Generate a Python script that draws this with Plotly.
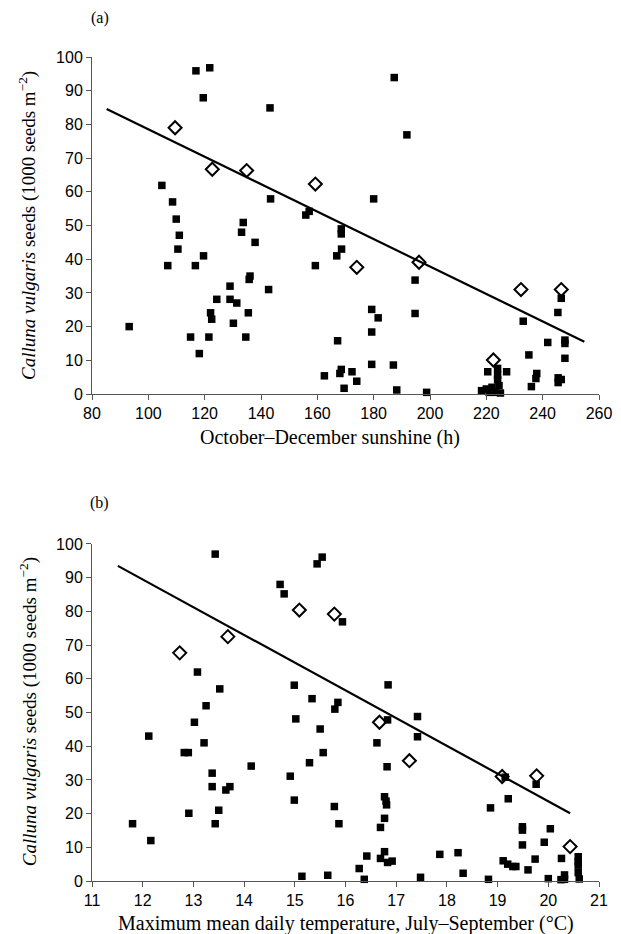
import plotly.graph_objects as go

# ---------------- Panel (a): October-December sunshine ----------------
a_sq_x = [116.9, 121.8, 119.5, 143.2, 104.8, 108.6, 143.4, 187.3, 191.8, 180.0,
          109.9, 111.0, 110.5, 106.9, 116.7, 119.6, 133.7, 133.1, 137.9, 155.9,
          157.1, 168.5, 168.5, 168.6, 166.9, 159.3, 136.1, 135.8, 142.7, 129.0,
          129.0, 131.4, 124.3, 122.1, 122.5, 135.5, 130.2, 93.2, 115.0, 121.5,
          134.6, 118.1, 167.2, 162.5, 168.0, 168.5, 169.5, 172.3, 194.7, 194.7,
          179.3, 181.6, 179.3, 179.3, 187.0, 174.0, 188.2, 198.8, 220.5, 224.0,
          224.0, 224.0, 227.2, 218.3, 221.0, 222.0, 223.0, 224.5, 225.0, 220.0,
          246.6, 245.4, 233.1, 247.9, 247.9, 241.8, 235.1, 247.9, 237.9, 237.6,
          236.0, 245.5, 246.6, 245.5]
a_sq_y = [95.9, 96.8, 87.9, 84.9, 61.9, 57.0, 57.9, 93.9, 76.9, 57.9,
          51.9, 47.1, 43.0, 38.1, 38.1, 41.0, 50.9, 48.0, 45.0, 53.1,
          54.2, 49.0, 47.5, 43.0, 41.0, 38.1, 35.0, 34.0, 31.0, 32.0,
          28.1, 27.0, 28.1, 24.1, 22.2, 24.1, 21.0, 20.0, 16.9, 16.9,
          16.9, 12.0, 15.8, 5.4, 6.1, 7.3, 1.7, 6.6, 33.8, 23.9,
          25.1, 22.6, 18.4, 8.8, 8.6, 3.8, 1.2, 0.5, 6.6, 7.6,
          5.6, 4.2, 6.6, 1.0, 0.5, 2.0, 0.5, 2.5, 0.3, 1.5,
          28.4, 24.2, 21.6, 16.0, 15.0, 15.3, 11.6, 10.6, 6.1, 4.6,
          2.2, 4.8, 4.3, 3.4]
a_dm_x = [109.5, 122.7, 134.9, 159.3, 174.0, 196.1, 222.5, 232.3, 246.6]
a_dm_y = [79.0, 66.7, 66.3, 62.3, 37.6, 39.1, 10.1, 31.0, 31.0]
a_fit_x = [85.2, 254.8]
a_fit_y = [84.6, 15.5]

# ---------------- Panel (b): maximum mean daily temperature ----------------
b_sq_x = [13.43, 14.71, 14.79, 15.44, 15.54, 15.94, 13.08, 13.52, 13.25, 13.02,
          13.21, 12.12, 12.82, 12.90, 13.37, 13.37, 13.64, 13.72, 14.14, 12.91,
          13.50, 13.43, 11.80, 12.16, 14.99, 15.34, 15.02, 15.50, 15.56, 15.29,
          14.91, 14.99, 15.79, 15.85, 15.78, 15.87, 15.14, 15.65, 16.84, 16.83,
          17.42, 17.42, 16.62, 16.82, 16.77, 16.80, 16.81, 16.77, 16.69, 16.77,
          16.69, 16.83, 16.92, 16.42, 16.27, 16.37, 17.48, 17.86, 18.22, 18.32,
          18.82, 18.86, 19.15, 19.21, 19.11, 19.20, 19.30, 19.36, 19.49, 19.49,
          19.49, 19.60, 19.76, 19.74, 19.92, 20.04, 20.00, 20.26, 20.32, 20.25,
          20.32, 20.59, 20.59, 20.59, 20.59, 20.61]
b_sq_y = [97.0, 88.0, 85.2, 94.1, 96.1, 76.9, 62.0, 57.0, 52.0, 47.1,
          41.0, 43.0, 38.1, 38.1, 32.0, 28.0, 27.0, 28.0, 34.1, 20.1,
          21.0, 17.0, 17.0, 12.0, 58.1, 54.1, 48.1, 45.1, 38.1, 35.1,
          31.1, 24.0, 51.0, 53.0, 22.1, 17.0, 1.4, 1.7, 58.2, 47.8,
          48.8, 42.8, 41.0, 33.9, 25.0, 23.7, 22.6, 18.6, 15.9, 8.7,
          6.7, 5.5, 5.9, 7.4, 3.7, 0.5, 1.1, 7.9, 8.4, 2.3,
          0.5, 21.7, 30.8, 24.4, 6.0, 5.0, 4.3, 4.3, 16.1, 15.1,
          10.7, 3.3, 28.7, 6.5, 11.5, 15.5, 0.7, 6.7, 1.8, 0.4,
          0.5, 7.2, 5.7, 4.7, 2.5, 0.6]
b_dm_x = [13.68, 12.73, 15.09, 15.78, 16.67, 17.26, 19.09, 19.77, 20.43]
b_dm_y = [72.5, 67.7, 80.4, 79.2, 47.1, 35.7, 31.0, 31.2, 10.2]
b_fit_x = [11.51, 20.43]
b_fit_y = [93.5, 20.1]

y_ticks = list(range(0, 101, 10))
a_x_ticks = list(range(80, 261, 20))
b_x_ticks = list(range(11, 22, 1))

SERIF = "Liberation Serif, Times New Roman, serif"
SANS = "Liberation Sans, Arial, Helvetica, sans-serif"
AXCOL = "#555555"

fig = go.Figure()

def add_panel(sx, sy, dx, dy, fx, fy, xa, ya):
    fig.add_trace(go.Scatter(x=fx, y=fy, mode="lines", xaxis=xa, yaxis=ya,
                             line=dict(color="black", width=2.2),
                             showlegend=False, hoverinfo="skip"))
    fig.add_trace(go.Scatter(x=sx, y=sy, mode="markers", xaxis=xa, yaxis=ya,
                             marker=dict(symbol="square", size=7.5, color="black",
                                         line=dict(width=0)),
                             cliponaxis=False, showlegend=False))
    fig.add_trace(go.Scatter(x=dx, y=dy, mode="markers", xaxis=xa, yaxis=ya,
                             marker=dict(symbol="diamond-open", size=10, color="black",
                                         line=dict(width=2, color="black")),
                             cliponaxis=False, showlegend=False))

add_panel(a_sq_x, a_sq_y, a_dm_x, a_dm_y, a_fit_x, a_fit_y, "x", "y")
add_panel(b_sq_x, b_sq_y, b_dm_x, b_dm_y, b_fit_x, b_fit_y, "x2", "y2")

axis_common = dict(showgrid=False, zeroline=False, showline=True, linecolor=AXCOL,
                   linewidth=1, ticks="outside", ticklen=5, tickcolor=AXCOL,
                   tickwidth=1, tickfont=dict(family=SANS, size=16, color="black"))

# The page body adds an 8 px offset, so margins are reduced by 8 on left/top.
fig.update_layout(
    width=621, height=934,
    margin=dict(l=84, r=30, t=49, b=61),
    paper_bgcolor="white", plot_bgcolor="white",
    xaxis=dict(domain=[0, 1], range=[80, 260], tickvals=a_x_ticks, anchor="y",
               **axis_common),
    yaxis=dict(domain=[0.591, 1.0], range=[0, 100], tickvals=y_ticks, anchor="x",
               **axis_common),
    xaxis2=dict(domain=[0, 1], range=[11, 21], tickvals=b_x_ticks, anchor="y2",
                **axis_common),
    yaxis2=dict(domain=[0.0, 0.409], range=[0, 100], tickvals=y_ticks, anchor="x2",
                **axis_common),
)

ytitle = "<i>Calluna vulgaris</i> seeds (1000 seeds m<sup>−2</sup>)"
annots = [
    dict(text="(a)", x=-0.006, y=1.047, xanchor="left", yanchor="middle"),
    dict(text="(b)", x=-0.008, y=0.459, xanchor="left", yanchor="middle"),
    dict(text="October–December sunshine (h)", x=0.47, y=0.538,
         xanchor="center", yanchor="middle", size=20),
    dict(text="Maximum mean daily temperature, July–September (°C)", x=0.5, y=-0.051,
         xanchor="center", yanchor="middle", size=20),
    dict(text=ytitle, x=-0.126, y=0.795, xanchor="center", yanchor="middle",
         textangle=-90, size=19),
    dict(text=ytitle, x=-0.126, y=0.205, xanchor="center", yanchor="middle",
         textangle=-90, size=19),
]
for a in annots:
    size = a.pop("size", 16)
    fig.add_annotation(xref="paper", yref="paper", showarrow=False,
                       font=dict(family=SERIF, size=size, color="black"), **a)

fig.write_html("out.html")
